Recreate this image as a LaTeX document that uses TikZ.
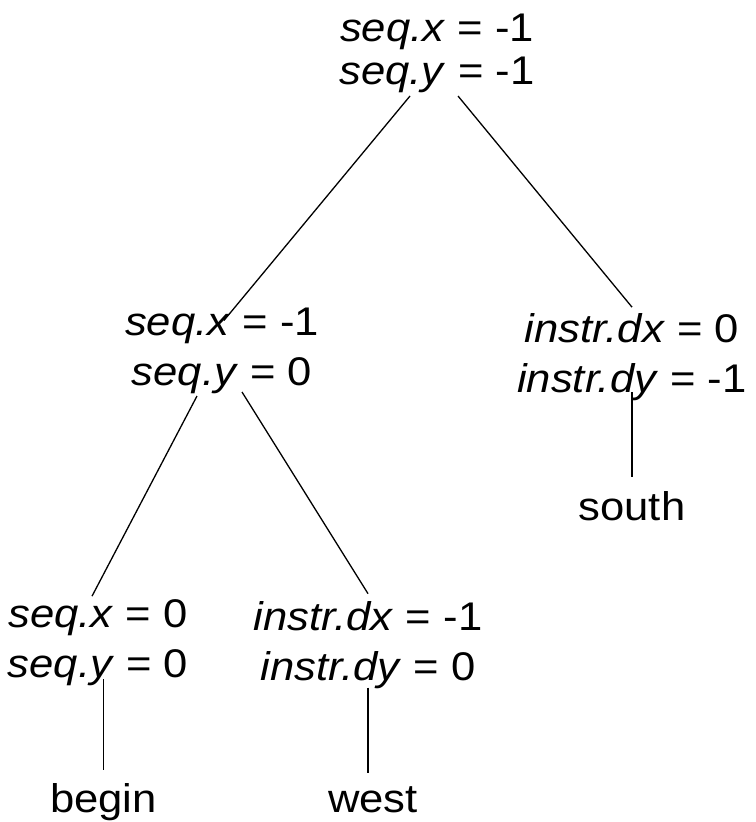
\documentclass[tikz,border=0pt]{standalone}
\usepackage{fontspec}
\setmainfont{Liberation Sans}[FakeStretch=1.09]
\usetikzlibrary{calc, positioning}

\begin{document}
\begin{tikzpicture}[
    x=0.5pt, y=-0.5pt,
    font=\fontsize{20pt}{21.5pt}\selectfont,
    state/.style={align=center, inner sep=0pt},
    widestate/.style={state, font=\fontsize{20pt}{25pt}\selectfont},
    leaf/.style={inner sep=0pt, anchor=base},
    link/.style={draw, line width=0.65pt},
]
\useasboundingbox (0,0) rectangle (755,822);

% ---------------- upper levels ----------------
\node[state]     (root) at (437,53.2)  {\textit{seq.x} = -1\\\textit{seq.y} = -1};
\node[widestate] (lc)   at (222,350.7) {\textit{seq.x} = -1\\\textit{seq.y} = 0};
\node[widestate] (rc)   at (632,357.2) {\textit{instr.dx} = 0\\\textit{instr.dy} = -1};

% ---------------- lower level ----------------
\node[widestate] (bl)   at (98,642.7)  {\textit{seq.x} = 0\\\textit{seq.y} = 0};
\node[widestate] (bm)   at (368,644.7) {\textit{instr.dx} = -1\\\textit{instr.dy} = 0};

% leaves
\node[leaf] (south) at (632,520)   {south};
\node[leaf] (begin) at (103.5,812) {begin};
\node[leaf] (west)  at (373,812)   {west};

% ---------------- connectors ----------------
\draw[link] ($(root.south)+(-27,3)$) -- ($(lc.north)+(2,13)$);
\draw[link] ($(root.south)+(21,3)$)  -- ($(rc.north)+(0,-6)$);
\draw[link] ($(lc.south)+(-25,2)$)   -- ($(bl.north)+(-6,-3)$);
\draw[link] ($(lc.south)+(20,-2)$)   -- ($(bm.north)+(0,-7)$);
\draw[link] ($(rc.south)+(0,-9)$)    -- ($(south.north)+(0,-14)$);
\draw[link] ($(bl.south -| begin.north)+(0,-7)$) -- ($(begin.north)+(0,-13)$);
\draw[link] ($(bm.south)+(0,-1)$)    -- ($(bm.south |- west.north)+(0,-13)$);

\end{tikzpicture}
\end{document}
